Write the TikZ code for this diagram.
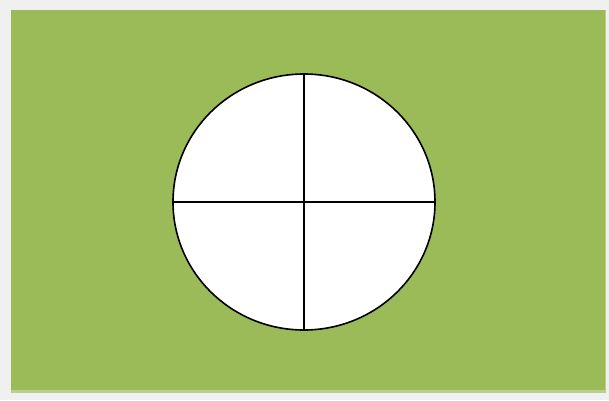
\documentclass[tikz,border=0pt]{standalone}
\definecolor{bggray}{HTML}{F0F0F0}
\definecolor{flaggreen}{HTML}{9BBB59}
\begin{document}
\begin{tikzpicture}[x=1pt,y=1pt,line width=1.6pt]
\fill[bggray] (0,0) rectangle (609,400);
\useasboundingbox (0,0) rectangle (609,400);
\fill[flaggreen!70!white] (11,7) rectangle (606,390);
\fill[flaggreen] (11,10) rectangle (605,390);
\coordinate (c) at (304,198);
\draw[fill=white] (c) ellipse [x radius=131, y radius=128];
\draw (304,70) -- (304,326);
\draw (173,198) -- (435,198);
\end{tikzpicture}
\end{document}
